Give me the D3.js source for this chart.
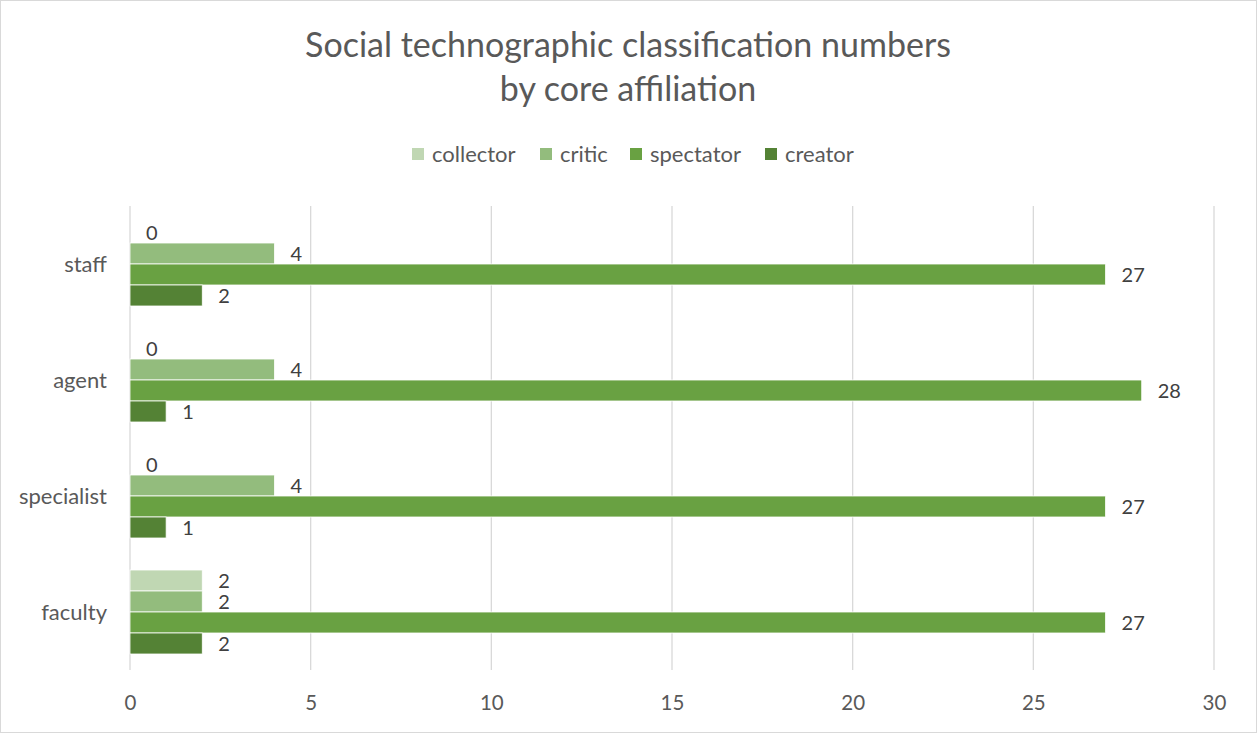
<!DOCTYPE html>
<html>
<head>
<meta charset="utf-8">
<script src="https://cdn.jsdelivr.net/npm/d3@7"></script>
<style>
  html, body { margin: 0; padding: 0; background: #fff; }
  svg { display: block; font-family: Lato, "Open Sans", sans-serif; }
</style>
</head>
<body>
<svg id="chart" width="1257" height="733"></svg>
<script>
// Affiliation groups, listed top to bottom
const categories = ["staff", "agent", "specialist", "faculty"];
// Classification series, in bar order within each group
const seriesNames = ["collector", "critic", "spectator", "creator"];
const collector = [0, 0, 0, 2];
const critic    = [4, 4, 4, 2];
const spectator = [27, 28, 27, 27];
const creator   = [2, 1, 1, 2];
const xTicks = [0, 5, 10, 15, 20, 25, 30];
const colors = ["#c0d7b3", "#93bc7d", "#69a142", "#548235"];

const seriesValues = [collector, critic, spectator, creator];
const rows = categories.map((c, i) => ({
  category: c,
  values: seriesNames.map((s, k) => ({ series: s, value: seriesValues[k][i], k }))
}));

const W = 1257, H = 733;
const plot = { left: 130, right: 1214, top: 206, bottom: 670 };
const svg = d3.select("#chart");

// chart frame
svg.append("rect")
  .attr("x", 0.5).attr("y", 0.5).attr("width", W - 1).attr("height", H - 1)
  .attr("fill", "#fff").attr("stroke", "#d9d9d9");

// title
const title = svg.append("text")
  .attr("text-anchor", "middle").attr("fill", "#595959")
  .attr("font-size", 34);
title.append("tspan").attr("x", 628).attr("y", 57).text("Social technographic classification numbers");
title.append("tspan").attr("x", 628).attr("y", 101).text("by core affiliation");

// scales
const x = d3.scaleLinear().domain([0, 30]).range([plot.left, plot.right]);
const y = d3.scaleBand().domain(categories).range([plot.top, plot.bottom]);
const yInner = d3.scaleBand().domain(seriesNames).range([16, 100]);

// gridlines
svg.append("g").selectAll("line").data(xTicks).join("line")
  .attr("x1", d => x(d)).attr("x2", d => x(d))
  .attr("y1", plot.top).attr("y2", plot.bottom)
  .attr("stroke", "#d9d9d9").attr("stroke-width", 1.3);

// x axis labels
const xAxis = d3.axisBottom(x).tickValues(xTicks).tickSize(0).tickPadding(0);
svg.append("g")
  .attr("transform", `translate(0,${plot.bottom})`)
  .call(xAxis)
  .call(g => g.select(".domain").remove())
  .call(g => g.selectAll("text")
    .attr("y", 40).attr("dy", 0)
    .attr("fill", "#595959").attr("font-size", 20.5)
    .attr("font-family", "Lato, sans-serif"));

// category labels
const yAxis = d3.axisLeft(y).tickSize(0).tickPadding(0);
svg.append("g")
  .attr("transform", `translate(107,0)`)
  .call(yAxis)
  .call(g => g.select(".domain").remove())
  .call(g => g.selectAll("text")
    .attr("x", 0).attr("dy", "0.35em")
    .attr("fill", "#595959").attr("font-size", 22)
    .attr("font-family", "Lato, sans-serif"));

// bars
const groups = svg.append("g").selectAll("g").data(rows).join("g")
  .attr("transform", d => `translate(0,${y(d.category)})`);

groups.selectAll("rect").data(d => d.values).join("rect")
  .attr("x", x(0))
  .attr("y", d => yInner(d.series))
  .attr("width", d => x(d.value) - x(0))
  .attr("height", yInner.bandwidth())
  .attr("fill", d => colors[d.k])
  .attr("stroke", "#ffffff").attr("stroke-width", 0.8);

// value labels
groups.selectAll("text").data(d => d.values).join("text")
  .attr("x", d => x(d.value) + 16)
  .attr("y", d => yInner(d.series) + yInner.bandwidth() / 2)
  .attr("dy", "0.35em")
  .attr("fill", "#404040").attr("font-size", 20)
  .text(d => d.value);

// legend
const legendX = [412, 540, 630, 765];
const legend = svg.append("g").selectAll("g").data(seriesNames).join("g")
  .attr("transform", (d, i) => `translate(${legendX[i]},148)`);
legend.append("rect").attr("width", 12).attr("height", 12)
  .attr("fill", (d, i) => colors[i]);
legend.append("text").attr("x", 20).attr("y", 6).attr("dy", "0.35em")
  .attr("fill", "#595959").attr("font-size", 22).text(d => d);
</script>
</body>
</html>
